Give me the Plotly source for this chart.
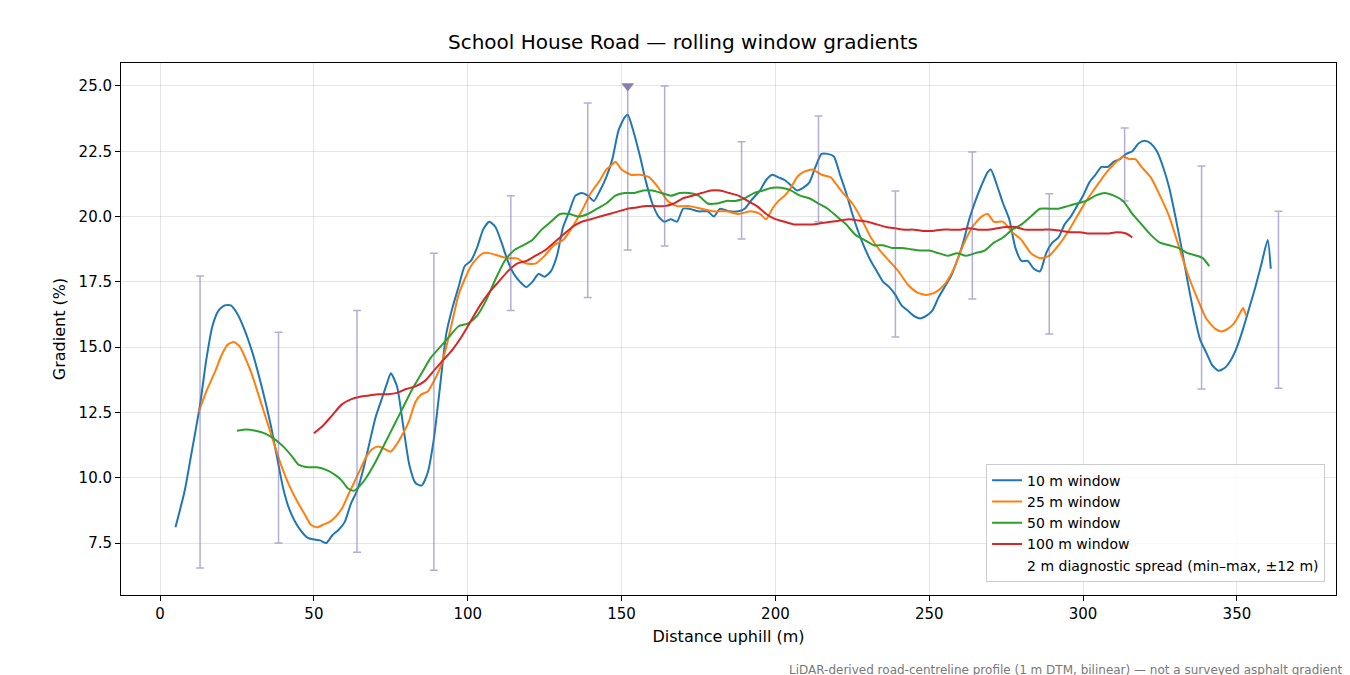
import plotly.graph_objects as go

# 10 m window
x10 = [5, 8, 10, 13, 15, 17, 19, 21, 23, 25, 27, 30, 33, 36, 38, 40, 42, 45, 48, 52, 54, 56, 58, 60,
       62, 64, 66, 68, 70, 72, 74, 75, 77, 79, 81, 83, 85, 87, 89, 91, 93, 95, 97, 99, 101, 103, 105,
       107, 109, 111, 113, 115, 117, 119, 121, 123, 125, 127, 129, 131, 133, 135, 137, 139, 141, 143,
       145, 147, 149, 151, 152, 154, 156, 158, 160, 162, 164, 166, 168, 170, 172, 175, 178, 180, 182,
       185, 188, 190, 192, 195, 197, 199, 201, 203, 205, 207, 209, 211, 213, 215, 217, 219, 221, 223,
       225, 227, 229, 231, 233, 235, 237, 239, 241, 243, 245, 247, 249, 251, 253, 255, 257, 259, 261,
       263, 265, 267, 269, 270, 272, 274, 276, 278, 280, 282, 284, 286, 288, 290, 292, 294, 296, 298,
       300, 302, 304, 306, 308, 310, 312, 314, 316, 318, 320, 322, 324, 326, 328, 330, 332, 334, 336,
       338, 340, 342, 344, 346, 348, 350, 352, 354, 356, 358, 360, 361]
y10 = [8.1, 9.5, 10.8, 12.8, 14.5, 15.8, 16.4, 16.6, 16.6, 16.3, 15.8, 14.8, 13.5, 12.0, 10.8, 9.6,
       8.8, 8.1, 7.7, 7.6, 7.5, 7.8, 8.0, 8.3, 9.0, 9.5, 10.3, 11.3, 12.3, 13.0, 13.7, 14.0, 13.5, 12.0,
       10.5, 9.8, 9.7, 10.2, 11.5, 13.5, 15.5, 16.5, 17.3, 18.1, 18.3, 18.8, 19.5, 19.8, 19.6, 19.0,
       18.3, 17.8, 17.5, 17.3, 17.5, 17.8, 17.7, 17.9, 18.5, 19.6, 20.2, 20.8, 20.9, 20.8, 20.6, 21.0,
       21.5, 22.2, 23.3, 23.8, 23.9, 23.2, 22.3, 21.3, 20.5, 20.0, 19.8, 19.9, 19.8, 20.3, 20.3, 20.2,
       20.2, 20.0, 20.3, 20.2, 20.2, 20.3, 20.6, 21.0, 21.4, 21.6, 21.5, 21.4, 21.2, 21.0, 21.1, 21.3,
       21.9, 22.4, 22.4, 22.3, 21.6, 20.9, 20.1, 19.4, 18.8, 18.3, 17.9, 17.5, 17.3, 17.0, 16.6, 16.4,
       16.2, 16.1, 16.2, 16.4, 16.9, 17.3, 17.7, 18.3, 19.0, 19.9, 20.6, 21.2, 21.7, 21.8, 21.2, 20.5,
       19.9, 18.8, 18.3, 18.3, 18.0, 17.9, 18.6, 19.0, 19.2, 19.7, 20.0, 20.4, 20.8, 21.3, 21.6, 21.9,
       21.9, 22.1, 22.2, 22.4, 22.5, 22.8, 22.9, 22.8, 22.5, 21.9, 21.1, 20.0, 18.8, 17.5, 16.3, 15.3,
       14.8, 14.3, 14.1, 14.2, 14.5, 15.0, 15.7, 16.5, 17.3, 18.2, 19.1, 18.0]

# 25 m window
x25 = [12.5, 15, 18, 20, 22, 24, 26, 28, 30, 33, 36, 39, 42, 45, 47, 49, 51, 53, 55, 57, 59, 61, 63,
       65, 67, 69, 71, 73, 75, 77, 79, 81, 83, 85, 87, 89, 91, 93, 95, 97, 99, 101, 103, 105, 107, 110,
       113, 116, 119, 122, 125, 128, 131, 134, 137, 140, 143, 145, 147, 148, 150, 153, 156, 159, 162,
       165, 168, 172, 176, 180, 184, 188, 192, 195, 197, 199, 201, 203, 205, 207, 209, 212, 215, 218,
       220, 222, 225, 228, 231, 234, 237, 240, 243, 246, 249, 252, 255, 258, 261, 264, 267, 269, 271,
       274, 277, 280, 283, 286, 289, 292, 295, 298, 301, 304, 307, 310, 313, 315, 317, 319, 322, 325,
       328, 331, 334, 337, 340, 343, 345, 347, 349, 351, 352, 353]
y25 = [12.5, 13.3, 14.1, 14.7, 15.1, 15.2, 15.0, 14.5, 13.9, 12.8, 11.7, 10.6, 9.7, 9.0, 8.6, 8.2, 8.1,
       8.2, 8.3, 8.5, 8.8, 9.3, 9.8, 10.3, 10.8, 11.1, 11.2, 11.1, 11.0, 11.3, 11.7, 12.2, 12.9, 13.2,
       13.3, 13.7, 14.2, 15.0, 16.0, 17.0, 17.6, 18.1, 18.4, 18.6, 18.6, 18.5, 18.4, 18.4, 18.2, 18.2,
       18.5, 18.9, 19.1, 19.6, 20.2, 20.9, 21.4, 21.8, 22.0, 22.1, 21.8, 21.6, 21.6, 21.5, 21.1, 20.6,
       20.4, 20.4, 20.3, 20.2, 20.2, 20.1, 20.2, 20.1, 19.9, 20.3, 20.6, 20.8, 21.1, 21.5, 21.7, 21.8,
       21.6, 21.5, 21.2, 20.9, 20.5, 19.9, 19.2, 18.7, 18.3, 17.9, 17.4, 17.1, 17.0, 17.1, 17.4, 18.0,
       18.9, 19.6, 20.0, 20.1, 19.8, 19.8, 19.4, 19.1, 18.6, 18.4, 18.5, 18.9, 19.4, 20.0, 20.6, 21.1,
       21.6, 22.0, 22.3, 22.2, 22.2, 21.9, 21.5, 20.8, 20.0, 18.9, 17.8, 16.9, 16.1, 15.7, 15.6, 15.7,
       15.9, 16.3, 16.5, 16.2]

# 50 m window
x50 = [25, 28, 31, 34, 37, 40, 43, 45, 48, 51, 54, 57, 59, 61, 63, 65, 67, 70, 73, 76, 79, 82, 85, 88,
       91, 94, 97, 100, 103, 106, 109, 112, 115, 118, 121, 124, 127, 130, 133, 136, 139, 142, 145, 148,
       151, 154, 157, 160, 163, 166, 169, 172, 175, 178, 181, 184, 187, 190, 193, 196, 199, 202, 205,
       208, 211, 214, 217, 220, 223, 226, 229, 232, 235, 238, 241, 244, 247, 250, 253, 256, 259, 262,
       265, 268, 271, 274, 277, 280, 283, 286, 289, 292, 295, 298, 301, 304, 307, 310, 313, 316, 319,
       322, 325, 328, 331, 334, 337, 339, 341]
y50 = [11.8, 11.85, 11.8, 11.7, 11.5, 11.2, 10.8, 10.5, 10.4, 10.4, 10.3, 10.1, 9.9, 9.6, 9.5, 9.7,
       10.0, 10.6, 11.3, 12.0, 12.7, 13.4, 14.0, 14.6, 15.0, 15.4, 15.8, 15.9, 16.2, 16.8, 17.6, 18.3,
       18.7, 18.9, 19.1, 19.5, 19.8, 20.1, 20.1, 20.0, 20.1, 20.3, 20.5, 20.8, 20.9, 20.9, 21.0, 21.0,
       20.9, 20.8, 20.9, 20.9, 20.8, 20.5, 20.5, 20.6, 20.6, 20.7, 20.9, 21.0, 21.1, 21.1, 21.0, 20.8,
       20.7, 20.5, 20.3, 20.0, 19.7, 19.3, 19.1, 18.9, 18.9, 18.8, 18.8, 18.75, 18.7, 18.7, 18.6, 18.5,
       18.6, 18.5, 18.6, 18.7, 19.0, 19.2, 19.5, 19.7, 20.0, 20.3, 20.3, 20.3, 20.4, 20.5, 20.6, 20.8,
       20.9, 20.8, 20.6, 20.1, 19.7, 19.3, 19.0, 18.9, 18.8, 18.6, 18.5, 18.4, 18.1]

# 100 m window
x100 = [50, 53, 56, 59, 62, 65, 68, 71, 74, 77, 80, 83, 86, 89, 92, 95, 98, 101, 104, 107, 110, 113,
        116, 119, 122, 125, 128, 131, 134, 137, 140, 143, 146, 149, 152, 155, 158, 161, 164, 167, 170,
        173, 176, 179, 182, 185, 188, 191, 194, 197, 200, 203, 206, 209, 212, 215, 218, 221, 224, 227,
        230, 233, 236, 239, 242, 245, 248, 251, 254, 257, 260, 263, 266, 269, 272, 275, 278, 281, 284,
        287, 290, 293, 296, 299, 302, 305, 308, 311, 314, 316]
y100 = [11.7, 12.0, 12.4, 12.8, 13.0, 13.1, 13.15, 13.2, 13.2, 13.25, 13.4, 13.5, 13.7, 14.1, 14.5,
        14.9, 15.4, 16.0, 16.6, 17.1, 17.5, 17.9, 18.2, 18.3, 18.5, 18.7, 19.0, 19.3, 19.6, 19.8, 19.9,
        20.0, 20.1, 20.2, 20.3, 20.35, 20.4, 20.4, 20.4, 20.5, 20.7, 20.8, 20.9, 21.0, 21.0, 20.9, 20.8,
        20.6, 20.4, 20.1, 19.9, 19.8, 19.7, 19.7, 19.7, 19.75, 19.8, 19.85, 19.9, 19.85, 19.8, 19.7,
        19.6, 19.55, 19.5, 19.5, 19.45, 19.45, 19.5, 19.5, 19.5, 19.55, 19.5, 19.5, 19.55, 19.6, 19.6,
        19.5, 19.5, 19.5, 19.5, 19.45, 19.4, 19.4, 19.35, 19.35, 19.35, 19.4, 19.35, 19.2]

# 2 m diagnostic spread (min-max within +/-12 m)
diag_x = [13, 38.5, 64, 89, 114, 139, 152, 164, 189, 214, 239, 264, 289, 313.5, 338.5, 363.5]
diag_min = [6.54, 7.5, 7.15, 6.46, 16.4, 16.9, 18.72, 18.87, 19.14, 19.8, 15.39, 16.84, 15.5, 20.6, 13.4, 13.43]
diag_max = [17.72, 15.57, 16.4, 18.6, 20.8, 24.35, 25.0, 25.0, 22.86, 23.85, 20.98, 22.47, 20.87, 23.39, 21.94, 20.2]
clip_x = [152]
clip_y = [25.0]

fig = go.Figure()
series = [(x10, y10, "10 m window", "#1f77b4"), (x25, y25, "25 m window", "#ff7f0e"),
          (x50, y50, "50 m window", "#2ca02c"), (x100, y100, "100 m window", "#d62728")]
for xs, ys, name, col in series:
    fig.add_trace(go.Scatter(x=xs, y=ys, mode="lines", name=name,
                             line=dict(color=col, width=2, shape="spline", smoothing=0.6)))

fig.add_trace(go.Scatter(
    x=diag_x, y=diag_min, mode="markers", name="2 m diagnostic spread (min–max, ±12 m)",
    marker=dict(size=1, color="rgba(0,0,0,0)"),
    error_y=dict(type="data", symmetric=False,
                 array=[b - a for a, b in zip(diag_min, diag_max)],
                 arrayminus=[0] * len(diag_min),
                 color="rgba(117,107,177,0.55)", thickness=1.5, width=4)))
fig.add_trace(go.Scatter(x=clip_x, y=clip_y, mode="markers", showlegend=False,
                         marker=dict(symbol="triangle-down", size=11, color="#8a7db0")))

axis_common = dict(showline=True, linecolor="black", linewidth=1, mirror=True,
                   ticks="outside", ticklen=5, tickcolor="black", showgrid=True,
                   gridcolor="rgba(0,0,0,0.1)", zeroline=False, automargin=False,
                   tickfont=dict(size=15, color="black"))
fig.update_layout(
    width=1350, height=675,
    template="none",
    font=dict(family="DejaVu Sans", color="black"),
    title=dict(text="School House Road — rolling window gradients", x=0.5, xanchor="center",
               y=0.95, yanchor="middle", font=dict(size=20), automargin=False),
    xaxis=dict(axis_common, range=[-12.7, 382.2], tickvals=[0, 50, 100, 150, 200, 250, 300, 350],
               title=dict(text="Distance uphill (m)", font=dict(size=16), standoff=8)),
    yaxis=dict(axis_common, range=[5.51, 25.88], tickvals=[7.5, 10, 12.5, 15, 17.5, 20, 22.5, 25],
               tickformat=".1f",
               title=dict(text="Gradient (%)", font=dict(size=16), standoff=8)),
    plot_bgcolor="white", paper_bgcolor="white",
    margin=dict(l=113, r=22, t=55, b=88, autoexpand=False),
    legend=dict(x=0.991, y=0.025, xanchor="right", yanchor="bottom",
                bgcolor="rgba(255,255,255,0.85)", bordercolor="#cccccc", borderwidth=1,
                font=dict(size=14)),
    annotations=[dict(text="LiDAR-derived road-centreline profile (1 m DTM, bilinear) — not a surveyed asphalt gradient",
                      xref="paper", yref="paper", x=1.007, y=-0.124, xanchor="right", yanchor="top",
                      showarrow=False, font=dict(size=12, color="#777777"))],
)

fig.write_html("out.html")
